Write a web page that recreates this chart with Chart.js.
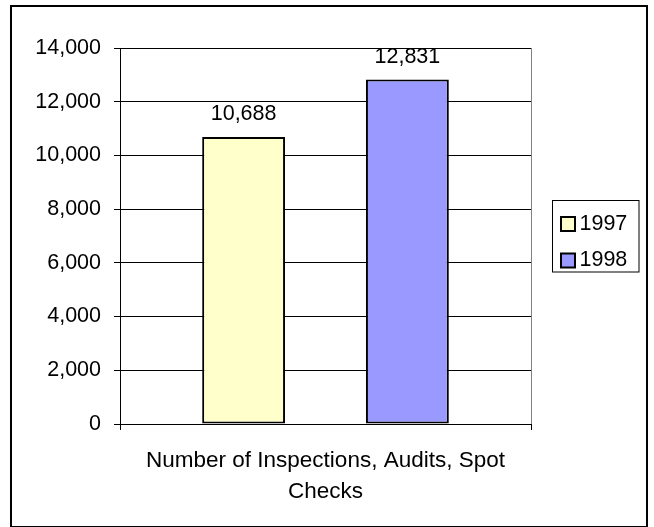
<!DOCTYPE html>
<html>
<head>
<meta charset="utf-8">
<script src="https://cdn.jsdelivr.net/npm/chart.js@4.4.0/dist/chart.umd.min.js"></script>
<style>
  html, body { margin: 0; padding: 0; background: #ffffff; }
  canvas { display: block; }
</style>
</head>
<body>
<canvas id="c" width="654" height="527"></canvas>
<script>
// ---- data ----
const categories = [['Number of Inspections, Audits, Spot', 'Checks']];
const seriesNames = ['1997', '1998'];
const values1997 = [10688];
const values1998 = [12831];
const seriesColors = ['#FFFFCC', '#9999FF'];
const yMin = 0;
const yMax = 14000;
const yStep = 2000;

const FONT = '"Liberation Sans", Arial, Helvetica, sans-serif';
const FSIZE = 21.5;

const fmt = v => Number(v).toLocaleString('en-US');

const framePlugin = {
  id: 'frame',
  beforeDatasetsDraw(chart) {
    const ctx = chart.ctx, a = chart.chartArea;
    ctx.save();
    ctx.strokeStyle = '#808080';
    ctx.lineWidth = 1;
    ctx.beginPath();
    ctx.moveTo(Math.round(a.right) + 0.5, a.top);
    ctx.lineTo(Math.round(a.right) + 0.5, a.bottom);
    ctx.stroke();
    ctx.restore();
  },
  afterDraw(chart) {
    const ctx = chart.ctx;
    ctx.save();
    // outer border
    ctx.strokeStyle = '#000';
    ctx.lineWidth = 2;
    ctx.strokeRect(11, 6, 636, 521);
    // legend
    ctx.lineWidth = 1;
    ctx.strokeStyle = '#000';
    ctx.strokeRect(552.5, 200.5, 86.5, 71.5);
    const rows = [224, 260.5];
    chart.data.datasets.forEach((ds, i) => {
      const cy = rows[i];
      ctx.fillStyle = ds.backgroundColor;
      ctx.fillRect(561, cy - 7, 14, 14);
      ctx.lineWidth = 2;
      ctx.strokeStyle = '#000';
      ctx.strokeRect(561, cy - 7, 14, 14);
      ctx.fillStyle = '#000';
      ctx.font = FSIZE + 'px ' + FONT;
      ctx.textAlign = 'left';
      ctx.textBaseline = 'middle';
      ctx.fillText(ds.label, 579.5, cy);
    });
    ctx.restore();
  },
  afterDatasetsDraw(chart) {
    const ctx = chart.ctx;
    ctx.save();
    ctx.fillStyle = '#000';
    ctx.font = FSIZE + 'px ' + FONT;
    ctx.textAlign = 'center';
    ctx.textBaseline = 'alphabetic';
    chart.data.datasets.forEach((ds, i) => {
      const meta = chart.getDatasetMeta(i);
      meta.data.forEach((el, j) => {
        ctx.fillText(fmt(ds.data[j]), el.x, el.y - 16.5);
      });
    });
    ctx.restore();
  }
};

new Chart(document.getElementById('c'), {
  type: 'bar',
  data: {
    labels: categories,
    datasets: [
      { label: seriesNames[0], data: values1997, backgroundColor: seriesColors[0] },
      { label: seriesNames[1], data: values1998, backgroundColor: seriesColors[1] }
    ]
  },
  options: {
    responsive: false,
    animation: false,
    devicePixelRatio: 1,
    layout: { padding: { left: 0, top: 48, right: 123, bottom: 0 } },
    datasets: {
      bar: {
        categoryPercentage: 0.797,
        barPercentage: 0.506,
        borderColor: '#000',
        borderWidth: 2,
        borderSkipped: false
      }
    },
    plugins: {
      legend: { display: false },
      tooltip: { enabled: false },
      title: { display: false }
    },
    scales: {
      x: {
        afterFit(scale) { scale.height = 103; },
        grid: {
          display: true,
          drawOnChartArea: false,
          drawTicks: true,
          tickLength: 6,
          color: '#000',
          offset: true
        },
        border: { display: true, color: '#000', width: 1 },
        ticks: {
          color: '#000',
          font: { family: FONT, size: 22.5, lineHeight: '30.5px' },
          padding: 16,
          maxRotation: 0,
          minRotation: 0,
          autoSkip: false
        }
      },
      y: {
        min: yMin,
        max: yMax,
        afterFit(scale) { scale.width = 120; },
        grid: {
          color: '#000',
          lineWidth: 1,
          drawTicks: true,
          tickLength: 6
        },
        border: { display: true, color: '#000', width: 1 },
        ticks: {
          stepSize: yStep,
          color: '#000',
          padding: 13,
          font: { family: FONT, size: FSIZE },
          callback: v => fmt(v)
        }
      }
    }
  },
  plugins: [framePlugin]
});
</script>
</body>
</html>
